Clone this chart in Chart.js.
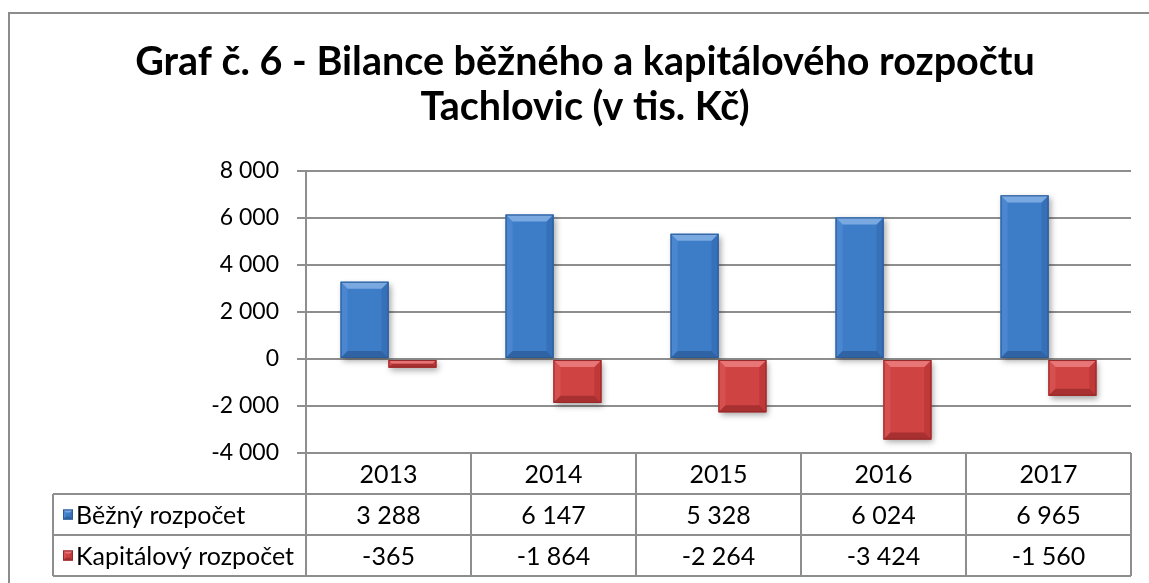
<!DOCTYPE html>
<html lang="cs">
<head>
<meta charset="utf-8">
<title>Graf č. 6 - Bilance běžného a kapitálového rozpočtu</title>
<script src="https://cdn.jsdelivr.net/npm/chart.js@4.4.1/dist/chart.umd.min.js"></script>
<style>
  html, body { margin: 0; padding: 0; overflow: hidden; background: #fff; }
  .frame {
    position: absolute;
    left: 8px;
    top: 12px;
    width: 1150px;
    height: 620px;
    border: 2px solid #8c8c8c;
  }
  canvas { display: block; }
</style>
</head>
<body>
<div class="frame"><canvas id="bilanceChart" width="1150" height="620"></canvas></div>
<script>
// data
const years = ['2013', '2014', '2015', '2016', '2017'];
const bezny = [3288, 6147, 5328, 6024, 6965];
const kapitalovy = [-365, -1864, -2264, -3424, -1560];
const seriesNames = ['Běžný rozpočet', 'Kapitálový rozpočet'];
const titleLines = ['Graf č. 6 - Bilance běžného a kapitálového rozpočtu', 'Tachlovic (v tis. Kč)'];

const gridColor = '#8e8e8e';
const fontFamily = "Lato, 'Open Sans', sans-serif";

// bevel colours, one palette per series
const palettes = [
  { base: '#3d7cc7', light: '#7aa9e2', dark: '#2f63a3', left: '#4a87d0', right: '#3570b9', edge: '#2c5b95' },
  { base: '#cf4343', light: '#e87676', dark: '#a83030', left: '#d65050', right: '#c13838', edge: '#962929' }
];

// thousands separated by a space, e.g. "-2 000"
function fmt(v) {
  const s = Math.abs(v).toString().replace(/\B(?=(\d{3})+(?!\d))/g, ' ');
  return (v < 0 ? '-' : '') + s;
}

function poly(ctx, pts, color) {
  ctx.beginPath();
  ctx.moveTo(pts[0][0], pts[0][1]);
  for (let i = 1; i < pts.length; i++) ctx.lineTo(pts[i][0], pts[i][1]);
  ctx.closePath();
  ctx.fillStyle = color;
  ctx.fill();
}

function drawBevel(ctx, l, t, r, b, pal, size, shadow) {
  const s = Math.min(size, (b - t) / 2, (r - l) / 2);
  ctx.save();
  if (shadow) {
    ctx.shadowColor = 'rgba(0, 0, 0, 0.35)';
    ctx.shadowBlur = 6;
    ctx.shadowOffsetX = 2;
    ctx.shadowOffsetY = 3;
  }
  ctx.fillStyle = pal.base;
  ctx.fillRect(l, t, r - l, b - t);
  ctx.restore();

  ctx.save();
  poly(ctx, [[l, t], [l + s, t + s], [l + s, b - s], [l, b]], pal.left);
  poly(ctx, [[r, t], [r - s, t + s], [r - s, b - s], [r, b]], pal.right);
  poly(ctx, [[l, t], [r, t], [r - s, t + s], [l + s, t + s]], pal.light);
  poly(ctx, [[l, b], [r, b], [r - s, b - s], [l + s, b - s]], pal.dark);
  ctx.strokeStyle = pal.edge;
  ctx.lineWidth = 1;
  ctx.strokeRect(l + 0.5, t + 0.5, r - l - 1, b - t - 1);
  ctx.restore();
}

// redraw every bar with the Excel-like bevel and shadow
const bevelPlugin = {
  id: 'bevel',
  afterDatasetsDraw(chart) {
    const ctx = chart.ctx;
    chart.data.datasets.forEach((ds, i) => {
      const meta = chart.getDatasetMeta(i);
      meta.data.forEach(bar => {
        const p = bar.getProps(['x', 'y', 'base', 'width'], true);
        const l = p.x - p.width / 2;
        const r = p.x + p.width / 2;
        const t = Math.min(p.y, p.base);
        const b = Math.max(p.y, p.base);
        drawBevel(ctx, l, t, r, b, palettes[i], 7, true);
      });
    });
  }
};

// data table under the plot (categories + values + legend keys)
const tablePlugin = {
  id: 'dataTable',
  afterDraw(chart) {
    const { ctx, chartArea: a, scales: { x } } = chart;
    const half = (a.right - a.left) / years.length / 2;
    const rowH = 41;
    const labelLeft = 43;
    const rows = [a.bottom, a.bottom + rowH, a.bottom + 2 * rowH, a.bottom + 3 * rowH];

    ctx.save();
    ctx.strokeStyle = gridColor;
    ctx.lineWidth = 2;
    ctx.beginPath();
    ctx.moveTo(a.left, rows[0]);
    ctx.lineTo(a.right, rows[0]);
    for (let k = 1; k < rows.length; k++) {
      ctx.moveTo(labelLeft, rows[k]);
      ctx.lineTo(a.right, rows[k]);
    }
    ctx.moveTo(labelLeft, rows[1]);
    ctx.lineTo(labelLeft, rows[3]);
    ctx.moveTo(a.left, rows[0]);
    ctx.lineTo(a.left, rows[3]);
    years.forEach((y, i) => {
      const xr = x.getPixelForValue(i) + half;
      ctx.moveTo(xr, rows[0]);
      ctx.lineTo(xr, rows[3]);
    });
    ctx.stroke();

    ctx.fillStyle = '#000';
    ctx.font = '25px ' + fontFamily;
    ctx.textBaseline = 'middle';
    ctx.textAlign = 'center';
    const series = [bezny, kapitalovy];
    years.forEach((y, i) => {
      const cx = x.getPixelForValue(i);
      ctx.fillText(y, cx, rows[0] + rowH / 2 + 1);
      series.forEach((vals, s) => {
        ctx.fillText(fmt(vals[i]), cx, rows[s + 1] + rowH / 2 + 1);
      });
    });

    ctx.textAlign = 'left';
    seriesNames.forEach((name, s) => {
      const cy = rows[s + 1] + rowH / 2;
      drawBevel(ctx, labelLeft + 10, cy - 5, labelLeft + 20, cy + 5, palettes[s], 3, false);
      ctx.fillStyle = '#000';
      ctx.fillText(name, labelLeft + 23, cy + 1);
    });
    ctx.restore();
  }
};

const ctx = document.getElementById('bilanceChart');

new Chart(ctx, {
  type: 'bar',
  data: {
    labels: years,
    datasets: [
      { label: seriesNames[0], data: bezny, backgroundColor: palettes[0].base, borderWidth: 0 },
      { label: seriesNames[1], data: kapitalovy, backgroundColor: palettes[1].base, borderWidth: 0 }
    ]
  },
  options: {
    responsive: false,
    animation: false,
    datasets: {
      bar: { categoryPercentage: 0.58, barPercentage: 1 }
    },
    layout: {
      padding: { left: 29, right: 29, top: 0, bottom: 181 }
    },
    plugins: {
      legend: { display: false },
      tooltip: { enabled: false },
      title: {
        display: true,
        text: titleLines,
        color: '#000',
        font: { family: fontFamily, size: 39.5, weight: 'bold', lineHeight: 1.14 },
        padding: { top: 26, bottom: 41 }
      }
    },
    scales: {
      x: {
        display: false
      },
      y: {
        min: -4000,
        max: 8000,
        afterFit(scale) {
          scale.width = 267;
        },
        grid: {
          color: gridColor,
          lineWidth: 2,
          tickLength: 9
        },
        border: {
          display: true,
          color: gridColor,
          width: 2
        },
        ticks: {
          stepSize: 2000,
          padding: 18,
          color: '#000',
          font: { family: fontFamily, size: 23 },
          callback: v => fmt(v)
        }
      }
    }
  },
  plugins: [bevelPlugin, tablePlugin]
});
</script>
</body>
</html>
